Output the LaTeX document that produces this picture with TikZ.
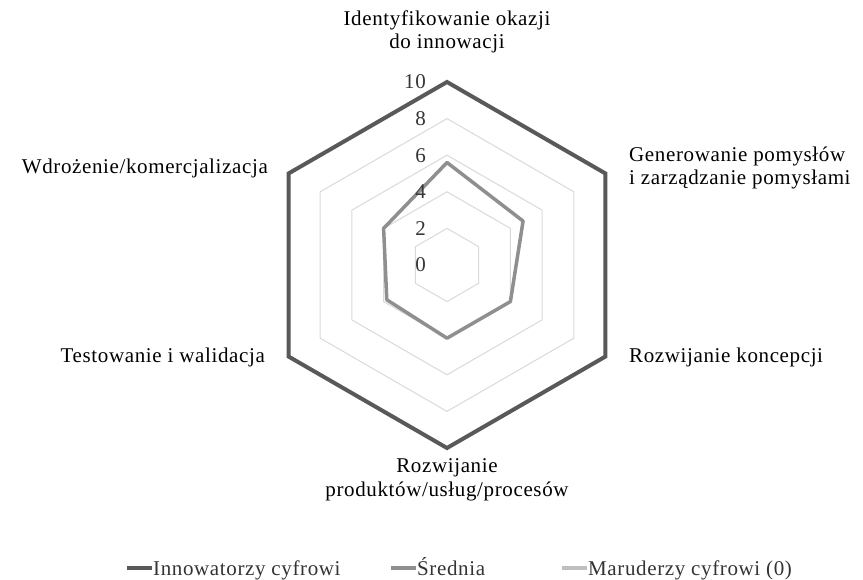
\documentclass[tikz,border=0pt]{standalone}
\usepackage{fontspec}
\setmainfont{Liberation Serif}[LetterSpace=3]
\usetikzlibrary{calc}
\definecolor{innow}{HTML}{595959}
\definecolor{sred}{HTML}{8F8F8F}
\definecolor{marud}{HTML}{BFBFBF}
\definecolor{siatka}{HTML}{D9D9D9}
\tikzset{
  lbl/.style={inner sep=0pt,font=\fontsize{21}{23.5}\selectfont},
  seria/.style={line width=#1,line join=round,line cap=round},
}
\begin{document}
\begin{tikzpicture}[x=1pt,y=1pt]
\useasboundingbox (0,0) rectangle (863,-580);
\begin{scope}[shift={(447,-265)}]
% siatka
\foreach \v in {2,4,6,8} \draw[siatka,line width=1pt] (90:18.3*\v) \foreach \a in {30,-30,-90,-150,150} { -- (\a:18.3*\v) } -- cycle;
% Srednia
\draw[sred,seria=3.5pt] (90:5.6*18.3) -- (30:4.8*18.3) -- (-30:4.0*18.3) -- (-90:4.0*18.3) -- (-150:3.8*18.3) -- (150:4.0*18.3) -- cycle;
% Innowatorzy cyfrowi
\draw[innow,seria=4pt,line cap=butt,line join=miter] (90:183) \foreach \a in {30,-30,-90,-150,150} { -- (\a:183) } -- cycle;
% skala
\foreach \v in {0,2,...,10} \node[lbl,anchor=east,text=innow!60!black] (skala\v) at (-21,\v*18.3) {\v};
\end{scope}
% etykiety osi
\node[lbl,align=center] (osIdent) at (447,-32) {Identyfikowanie okazji\\do innowacji};
\node[lbl,align=left,anchor=west] (osGener) at (629,-168) {Generowanie pomysłów\\i zarządzanie pomysłami};
\node[lbl,anchor=west] (osKoncep) at (629,-357) {Rozwijanie koncepcji};
\node[lbl,align=center] (osProd) at (447,-480) {Rozwijanie\\produktów/usług/procesów};
\node[lbl,anchor=east] (osTest) at (265,-357) {Testowanie i walidacja};
\node[lbl,anchor=east] (osWdroz) at (268,-168) {Wdrożenie/komercjalizacja};
% legenda
\coordinate (legA) at (127,-568);
\coordinate (legB) at (391,-568);
\coordinate (legC) at (562,-568);
\draw[innow,line width=4pt] (legA) -- ++(25,0) coordinate (legA2);
\draw[sred,line width=4pt] (legB) -- ++(25,0) coordinate (legB2);
\draw[marud,line width=4pt] (legC) -- ++(25,0) coordinate (legC2);
\node[lbl,anchor=base west,text=black!80] (legInn) at ([shift={(1,-7)}]legA2) {Innowatorzy cyfrowi};
\node[lbl,anchor=base west,text=black!80] (legSred) at ([shift={(1,-7)}]legB2) {Średnia};
\node[lbl,anchor=base west,text=black!80] (legMar) at ([shift={(1,-7)}]legC2) {Maruderzy cyfrowi (0)};
\end{tikzpicture}
\end{document}
